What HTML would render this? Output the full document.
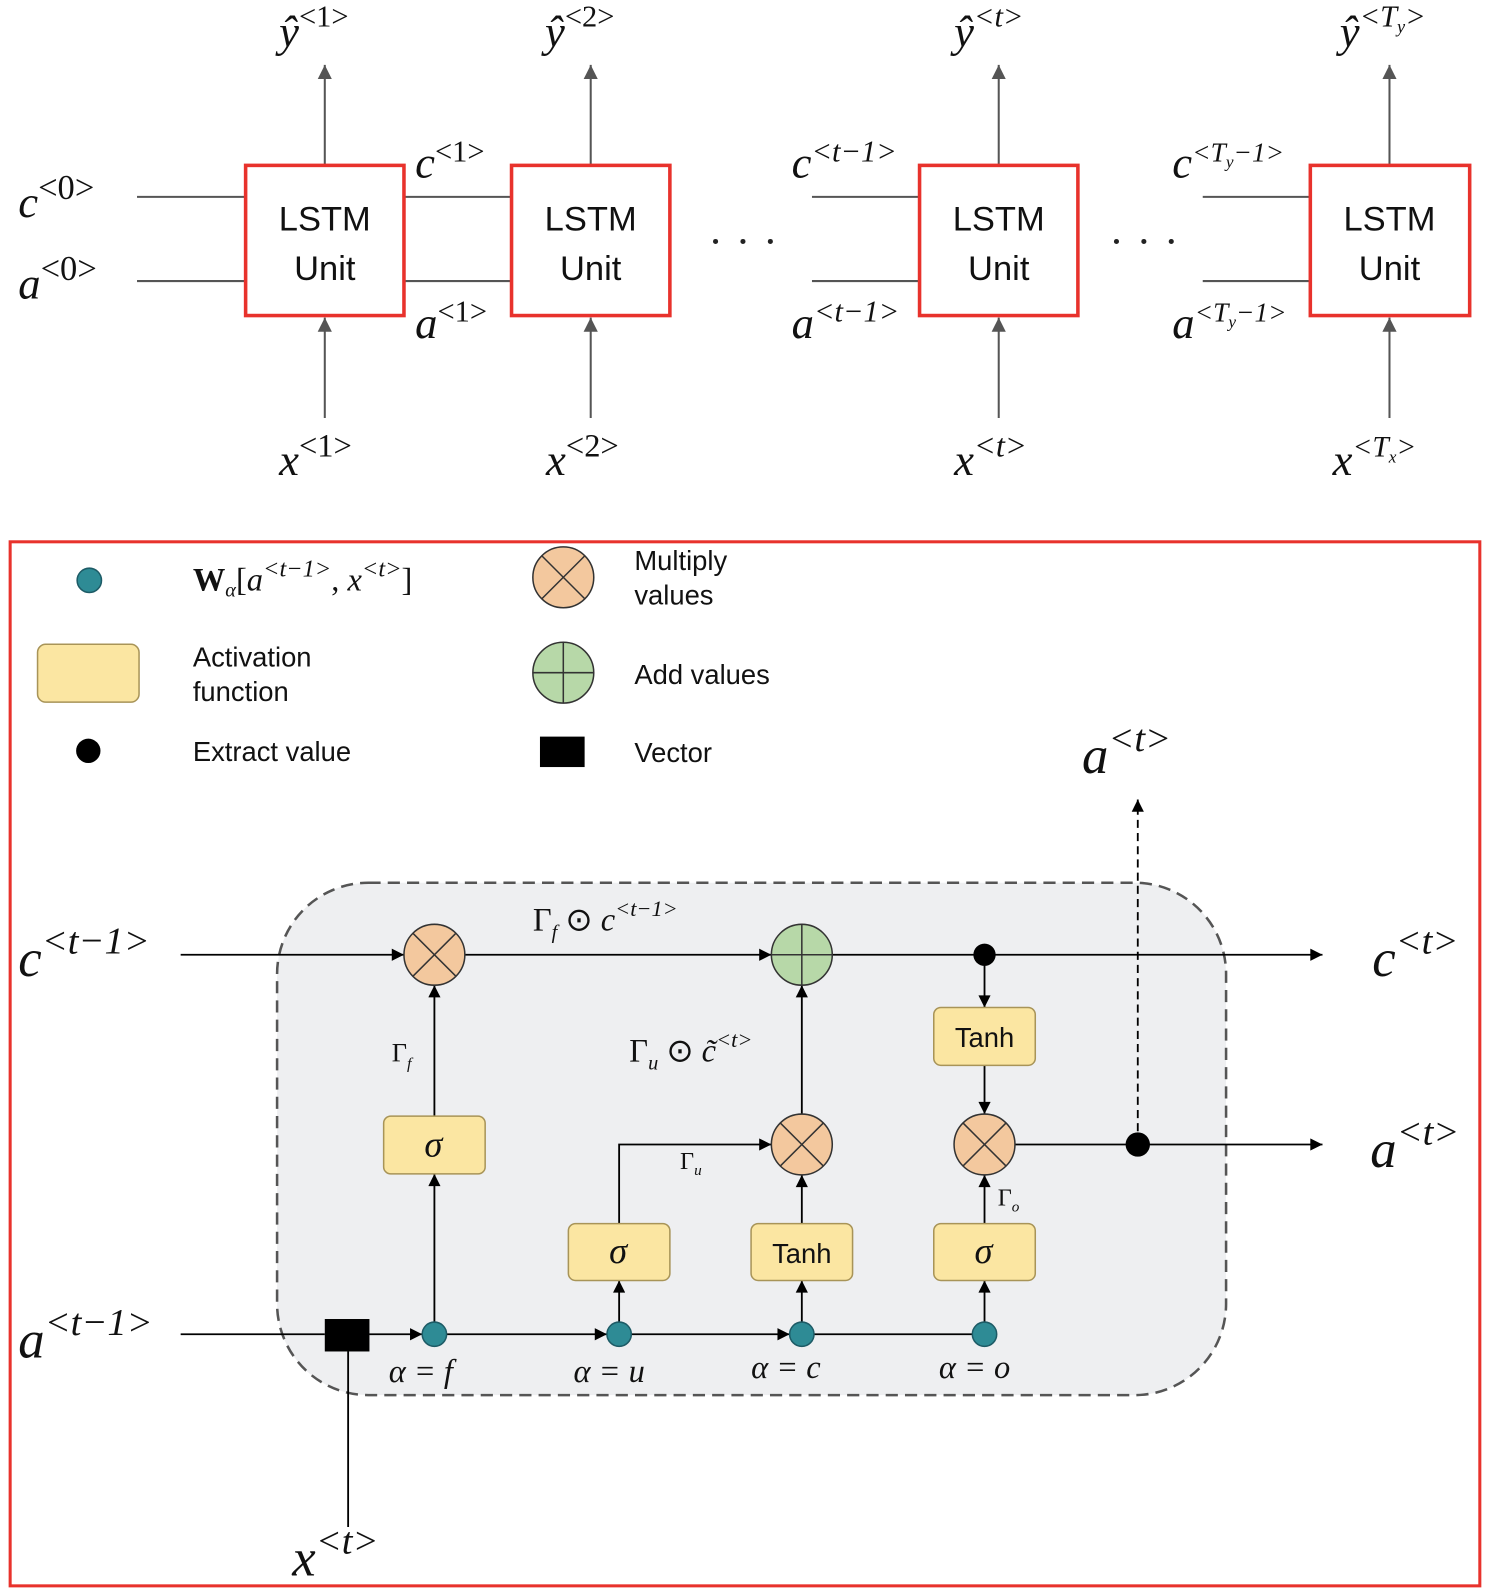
<!DOCTYPE html>
<html><head><meta charset="utf-8"><style>
html,body{margin:0;padding:0;background:#fff}
svg{display:block}
.m{font-family:"Liberation Serif",serif;font-style:italic}
.s{font-family:"Liberation Sans",sans-serif}
</style></head><body>
<svg width="1492" height="1596" viewBox="0 0 1470 1573" preserveAspectRatio="none" xmlns="http://www.w3.org/2000/svg">
<defs>
<marker id="gb" viewBox="0 0 10 10" markerWidth="14" markerHeight="18" refX="10" refY="5" orient="auto" markerUnits="userSpaceOnUse"><path d="M0,0 L10,5 L0,10 z" fill="#555"/></marker>
<marker id="ab" viewBox="0 0 10 10" markerWidth="14" markerHeight="12" refX="10" refY="5" orient="auto" markerUnits="userSpaceOnUse"><path d="M0,0 L10,5 L0,10 z" fill="#000"/></marker>
</defs>
<g stroke="#555" stroke-width="2" fill="none">
<line x1="135" y1="194" x2="242" y2="194"/><line x1="135" y1="277" x2="242" y2="277"/>
<line x1="398" y1="194" x2="504" y2="194"/><line x1="398" y1="277" x2="504" y2="277"/>
<line x1="800" y1="194" x2="906" y2="194"/><line x1="800" y1="277" x2="906" y2="277"/>
<line x1="1185" y1="194" x2="1291" y2="194"/><line x1="1185" y1="277" x2="1291" y2="277"/>
<g marker-end="url(#gb)">
<line x1="320" y1="163" x2="320" y2="64"/><line x1="582" y1="163" x2="582" y2="64"/>
<line x1="984" y1="163" x2="984" y2="64"/><line x1="1369" y1="163" x2="1369" y2="64"/>
<line x1="320" y1="412" x2="320" y2="313"/><line x1="582" y1="412" x2="582" y2="313"/>
<line x1="984" y1="412" x2="984" y2="313"/><line x1="1369" y1="412" x2="1369" y2="313"/>
</g></g>
<g stroke="#e8322c" stroke-width="3.5" fill="#fff">
<rect x="242" y="163" width="156" height="148"/><rect x="504" y="163" width="156" height="148"/>
<rect x="906" y="163" width="156" height="148"/><rect x="1291" y="163" width="157" height="148"/>
</g>
<g class="s" font-size="34" text-anchor="middle" fill="#111">
<text x="320" y="227">LSTM</text><text x="320" y="276">Unit</text>
<text x="582" y="227">LSTM</text><text x="582" y="276">Unit</text>
<text x="984" y="227">LSTM</text><text x="984" y="276">Unit</text>
<text x="1369" y="227">LSTM</text><text x="1369" y="276">Unit</text>
</g>
<g fill="#222"><circle cx="705" cy="238" r="2.5"/><circle cx="732" cy="238" r="2.5"/><circle cx="759" cy="238" r="2.5"/>
<circle cx="1100" cy="238" r="2.5"/><circle cx="1127" cy="238" r="2.5"/><circle cx="1154" cy="238" r="2.5"/></g>
<g class="m" fill="#111" font-size="44">
<text x="275" y="46">ŷ<tspan font-size="30" font-style="normal" dy="-20">&lt;1&gt;</tspan></text>
<text x="537" y="46">ŷ<tspan font-size="30" font-style="normal" dy="-20">&lt;2&gt;</tspan></text>
<text x="940" y="46">ŷ<tspan font-size="30" dy="-20">&lt;t&gt;</tspan></text>
<text x="1320" y="46">ŷ<tspan font-size="30" dy="-20">&lt;T<tspan font-size="18" dy="6">y</tspan><tspan dy="-6">&gt;</tspan></tspan></text>
<text x="18" y="214">c<tspan font-size="34" font-style="normal" dy="-18">&lt;0&gt;</tspan></text>
<text x="18" y="294">a<tspan font-size="34" font-style="normal" dy="-18">&lt;0&gt;</tspan></text>
<text x="409" y="175">c<tspan font-size="30" font-style="normal" dy="-16">&lt;1&gt;</tspan></text>
<text x="409" y="333">a<tspan font-size="30" font-style="normal" dy="-16">&lt;1&gt;</tspan></text>
<text x="780" y="175">c<tspan font-size="30" dy="-16">&lt;t−1&gt;</tspan></text>
<text x="780" y="333">a<tspan font-size="30" dy="-16">&lt;t−1&gt;</tspan></text>
<text x="1155" y="175">c<tspan font-size="27" dy="-16">&lt;T<tspan font-size="17" dy="6">y</tspan><tspan dy="-6">−1&gt;</tspan></tspan></text>
<text x="1155" y="333">a<tspan font-size="27" dy="-16">&lt;T<tspan font-size="17" dy="6">y</tspan><tspan dy="-6">−1&gt;</tspan></tspan></text>
<text x="275" y="468">x<tspan font-size="32" font-style="normal" dy="-18">&lt;1&gt;</tspan></text>
<text x="538" y="468">x<tspan font-size="32" font-style="normal" dy="-18">&lt;2&gt;</tspan></text>
<text x="940" y="468">x<tspan font-size="32" dy="-18">&lt;t&gt;</tspan></text>
<text x="1313" y="468">x<tspan font-size="29" dy="-18">&lt;T<tspan font-size="17" dy="6">x</tspan><tspan dy="-6">&gt;</tspan></tspan></text>
</g>
<rect x="10" y="534" width="1448" height="1029" fill="#fff" stroke="#e8322c" stroke-width="3"/>
<circle cx="88" cy="572" r="12" fill="#2e8b95" stroke="#1d5b66" stroke-width="1.5"/>
<text x="190" y="582" class="m" font-size="32" fill="#111"><tspan font-weight="bold" font-style="normal">W</tspan><tspan font-size="20" dy="6">α</tspan><tspan dy="-6" font-style="normal">[</tspan>a<tspan font-size="24" dy="-14">&lt;t−1&gt;</tspan><tspan dy="14" font-style="normal">, </tspan>x<tspan font-size="24" dy="-14">&lt;t&gt;</tspan><tspan dy="14" font-style="normal">]</tspan></text>
<rect x="37" y="635" width="100" height="57" rx="8" fill="#fbe6a2" stroke="#a89458" stroke-width="1.5"/>
<circle cx="87" cy="740" r="12" fill="#000"/>
<g class="s" font-size="27" fill="#111">
<text x="190" y="657">Activation</text><text x="190" y="691">function</text>
<text x="190" y="750">Extract value</text>
<text x="625" y="562">Multiply</text><text x="625" y="596">values</text>
<text x="625" y="674">Add values</text>
<text x="625" y="751">Vector</text>
</g>
<g stroke="#333" stroke-width="1.5">
<circle cx="555" cy="569" r="30" fill="#f3c89e"/><line x1="534" y1="548" x2="576" y2="590"/><line x1="576" y1="548" x2="534" y2="590"/>
<circle cx="555" cy="663" r="30" fill="#b7d8a8"/><line x1="525" y1="663" x2="585" y2="663"/><line x1="555" y1="633" x2="555" y2="693"/>
</g>
<rect x="532" y="726" width="44" height="30" fill="#000"/>
<rect x="273" y="870" width="935" height="505" rx="90" fill="#eeeff1" stroke="#555" stroke-width="2.5" stroke-dasharray="12,7"/>
<g stroke="#000" stroke-width="1.8" fill="none" marker-end="url(#ab)">
<line x1="178" y1="941" x2="398" y2="941"/>
<line x1="458" y1="941" x2="760" y2="941"/>
<line x1="820" y1="941" x2="1303" y2="941"/>
<line x1="970" y1="941" x2="970" y2="993"/>
<line x1="970" y1="1050" x2="970" y2="1098"/>
<line x1="1000" y1="1128" x2="1303" y2="1128"/>
<line x1="1121" y1="1128" x2="1121" y2="788" stroke-dasharray="8,5"/>
<line x1="428" y1="1100" x2="428" y2="971"/>
<line x1="428" y1="1303" x2="428" y2="1157"/>
<polyline points="610,1206 610,1128 760,1128"/>
<line x1="610" y1="1303" x2="610" y2="1262"/>
<line x1="790" y1="1206" x2="790" y2="1158"/>
<line x1="790" y1="1098" x2="790" y2="971"/>
<line x1="790" y1="1303" x2="790" y2="1262"/>
<line x1="970" y1="1206" x2="970" y2="1158"/>
<line x1="970" y1="1303" x2="970" y2="1262"/>
<line x1="178" y1="1315" x2="320" y2="1315" marker-end="none"/>
<line x1="364" y1="1315" x2="416" y2="1315"/>
<line x1="440" y1="1315" x2="598" y2="1315"/>
<line x1="622" y1="1315" x2="778" y2="1315"/>
<line x1="802" y1="1315" x2="958" y2="1315" marker-end="none"/>
<line x1="343" y1="1332" x2="343" y2="1505" marker-end="none"/>
</g>
<g stroke="#333" stroke-width="1.5">
<circle cx="428" cy="941" r="30" fill="#f3c89e"/><line x1="407" y1="920" x2="449" y2="962"/><line x1="449" y1="920" x2="407" y2="962"/>
<circle cx="790" cy="941" r="30" fill="#b7d8a8"/><line x1="760" y1="941" x2="820" y2="941"/><line x1="790" y1="911" x2="790" y2="971"/>
<circle cx="790" cy="1128" r="30" fill="#f3c89e"/><line x1="769" y1="1107" x2="811" y2="1149"/><line x1="811" y1="1107" x2="769" y2="1149"/>
<circle cx="970" cy="1128" r="30" fill="#f3c89e"/><line x1="949" y1="1107" x2="991" y2="1149"/><line x1="991" y1="1107" x2="949" y2="1149"/>
</g>
<g fill="#000"><circle cx="970" cy="941" r="11"/><circle cx="1121" cy="1128" r="12"/><rect x="320" y="1300" width="44" height="32"/></g>
<g fill="#2e8b95" stroke="#1d5b66" stroke-width="1.5">
<circle cx="428" cy="1315" r="12"/><circle cx="610" cy="1315" r="12"/><circle cx="790" cy="1315" r="12"/><circle cx="970" cy="1315" r="12"/>
</g>
<g fill="#fbe6a2" stroke="#a89458" stroke-width="1.5">
<rect x="378" y="1100" width="100" height="57" rx="7"/>
<rect x="560" y="1206" width="100" height="56" rx="7"/>
<rect x="740" y="1206" width="100" height="56" rx="7"/>
<rect x="920" y="1206" width="100" height="56" rx="7"/>
<rect x="920" y="993" width="100" height="57" rx="7"/>
</g>
<g class="s" font-size="27" fill="#111" text-anchor="middle">
<text x="970" y="1032">Tanh</text><text x="790" y="1245">Tanh</text>
</g>
<g class="m" font-size="36" fill="#111" text-anchor="middle">
<text x="427" y="1140">σ</text><text x="609" y="1245">σ</text><text x="969" y="1245">σ</text>
</g>
<g class="m" fill="#111" font-size="32">
<text x="383" y="1362">α = f</text><text x="565" y="1362">α = u</text>
<text x="740" y="1358">α = c</text><text x="925" y="1358">α = o</text>
<text x="525" y="917"><tspan font-style="normal">Γ</tspan><tspan font-size="20" dy="8">f</tspan><tspan dy="-8" font-style="normal"> ⊙ </tspan>c<tspan font-size="22" dy="-14">&lt;t−1&gt;</tspan></text>
<text x="620" y="1046"><tspan font-style="normal">Γ</tspan><tspan font-size="20" dy="8">u</tspan><tspan dy="-8" font-style="normal"> ⊙ </tspan>c̃<tspan font-size="22" dy="-14">&lt;t&gt;</tspan></text>
<text x="386" y="1046" font-size="26"><tspan font-style="normal">Γ</tspan><tspan font-size="16" dy="7">f</tspan></text>
<text x="670" y="1152" font-size="24"><tspan font-style="normal">Γ</tspan><tspan font-size="15" dy="6">u</tspan></text>
<text x="983" y="1188" font-size="24"><tspan font-style="normal">Γ</tspan><tspan font-size="15" dy="6">o</tspan></text>
</g>
<g class="m" fill="#111" font-size="52">
<text x="18" y="962">c<tspan font-size="38" dy="-22">&lt;t−1&gt;</tspan></text>
<text x="18" y="1338">a<tspan font-size="38" dy="-22">&lt;t−1&gt;</tspan></text>
<text x="1352" y="962">c<tspan font-size="38" dy="-22">&lt;t&gt;</tspan></text>
<text x="1350" y="1150">a<tspan font-size="38" dy="-22">&lt;t&gt;</tspan></text>
<text x="1066" y="762">a<tspan font-size="38" dy="-22">&lt;t&gt;</tspan></text>
<text x="288" y="1553">x<tspan font-size="38" dy="-22">&lt;t&gt;</tspan></text>
</g>
</svg>
</body></html>
